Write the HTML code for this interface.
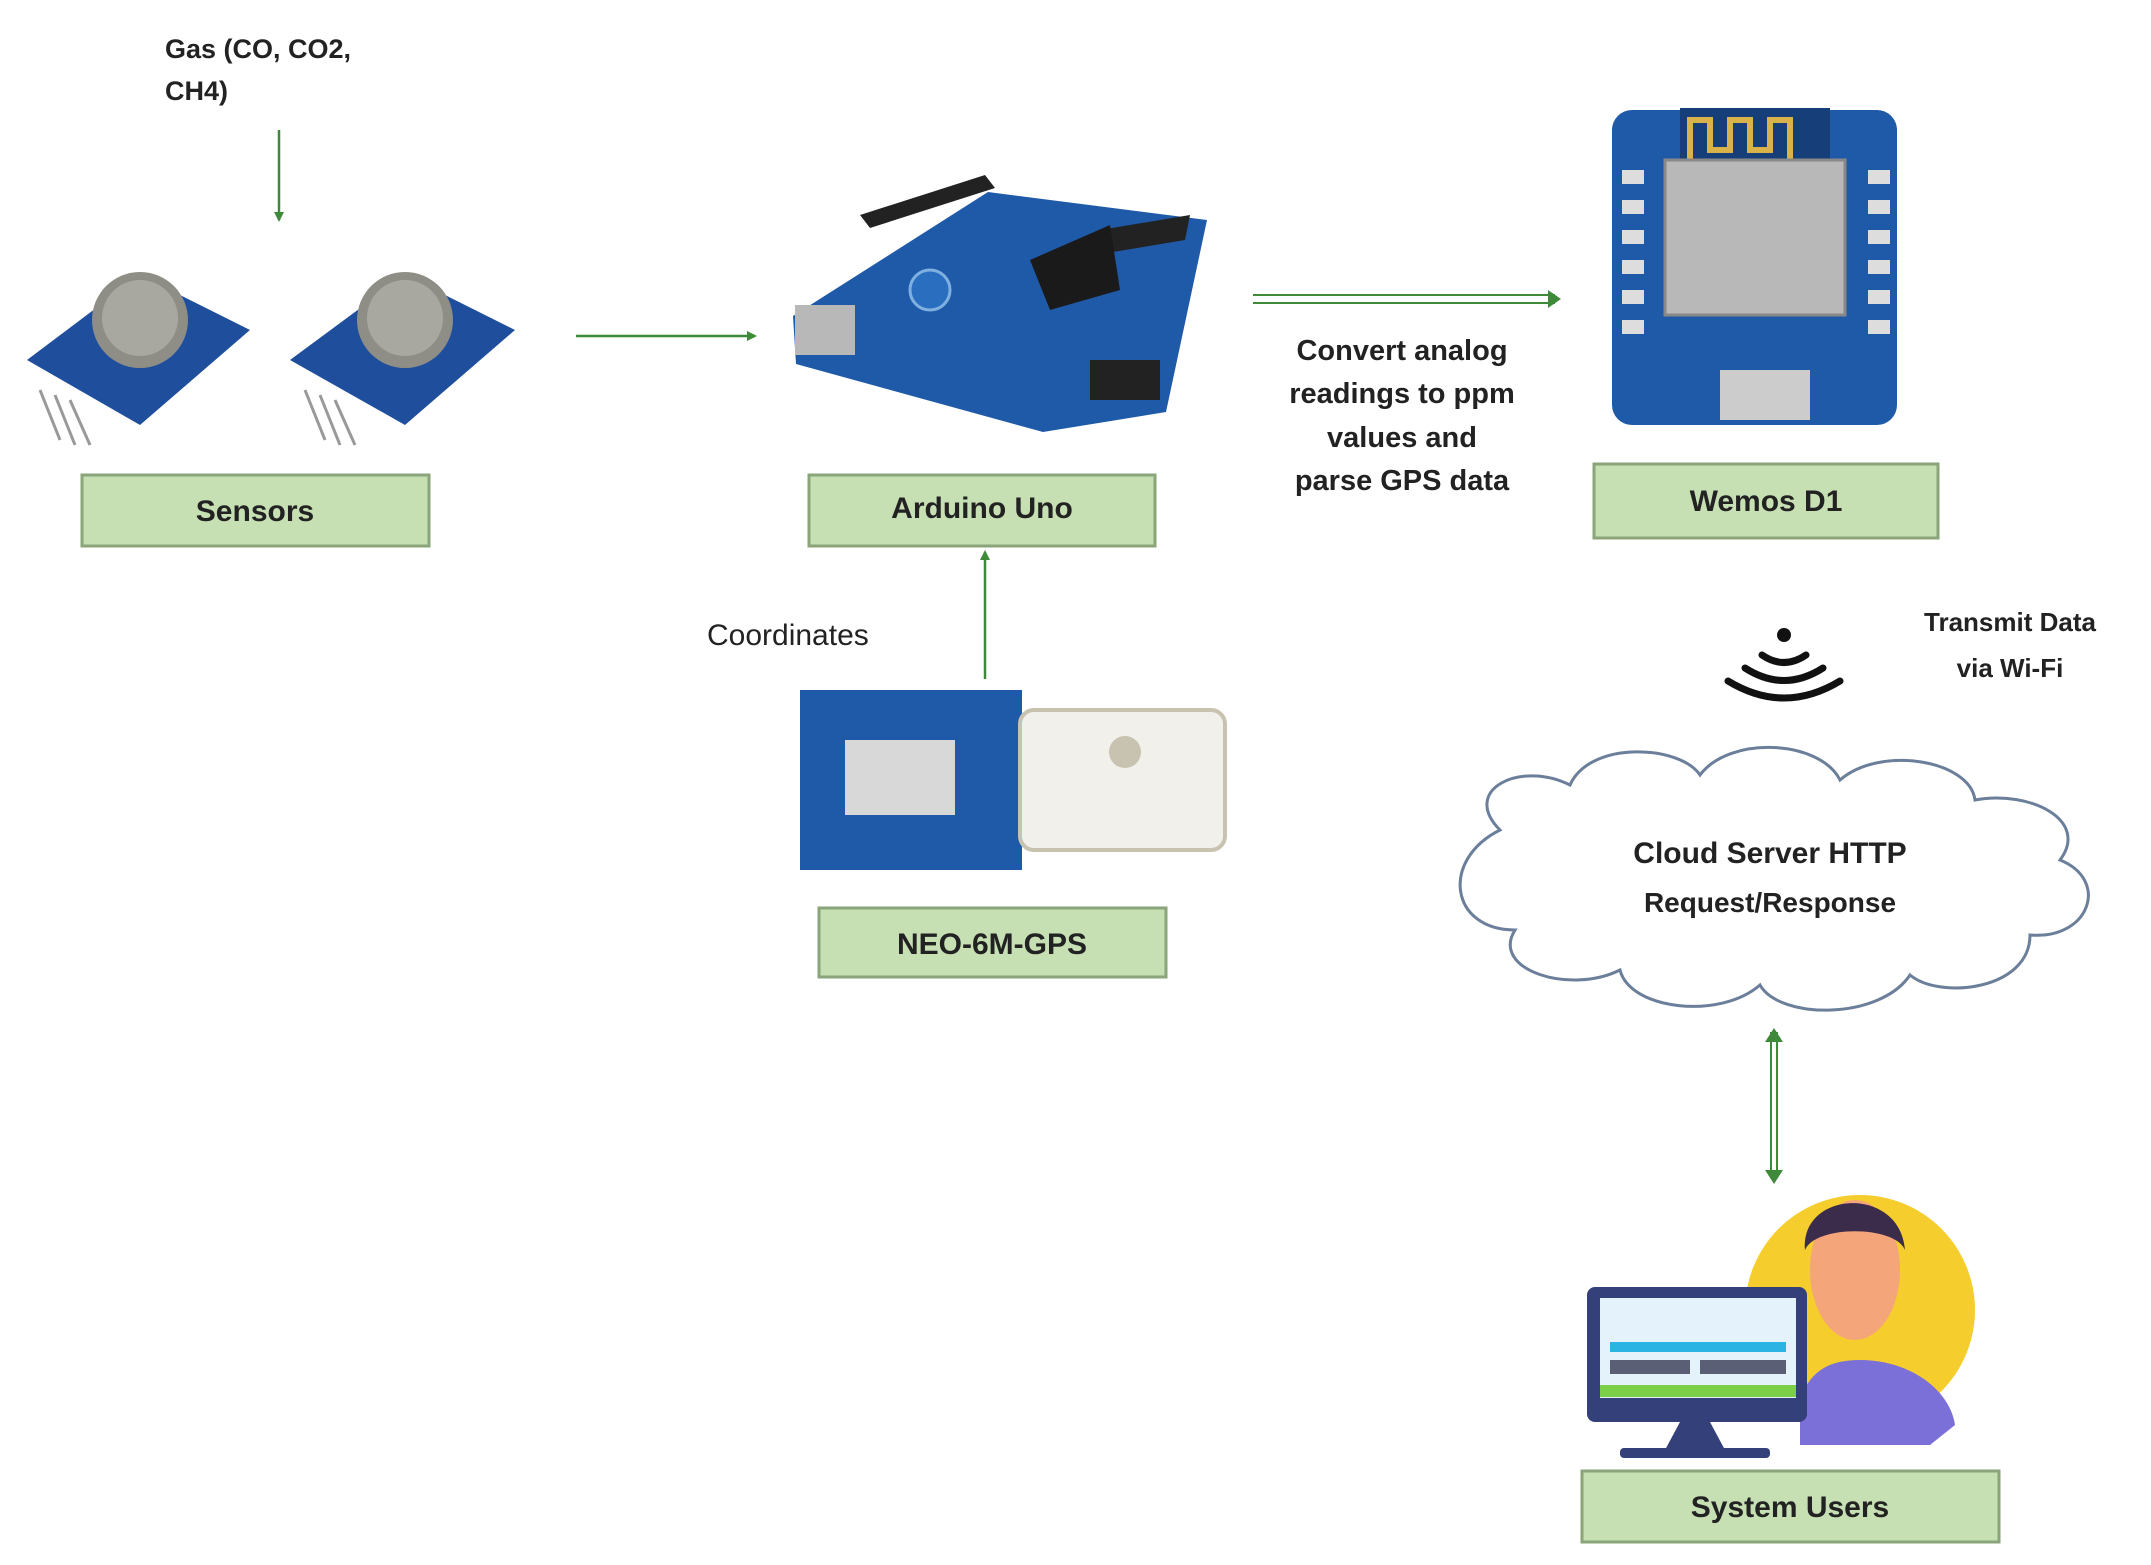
<!DOCTYPE html>
<html><head><style>
body{margin:0;background:#fff;}
svg{display:block;}
text{font-family:"Liberation Sans",sans-serif;fill:#222;font-weight:bold;}
</style></head><body>
<svg width="2151" height="1565" viewBox="0 0 2151 1565" xmlns="http://www.w3.org/2000/svg">
<defs>
<marker id="ah" markerWidth="10" markerHeight="10" refX="8" refY="5" orient="auto" markerUnits="userSpaceOnUse"><path d="M0,0 L10,5 L0,10 z" fill="#3f8a3a"/></marker>
</defs>

<text x="165" y="58" font-size="27">Gas (CO, CO2,</text>
<text x="165" y="100" font-size="27">CH4)</text>
<line x1="279" y1="130" x2="279" y2="220" stroke="#3f8a3a" stroke-width="2.5" marker-end="url(#ah)"/>

<g>
 <polygon points="27,360 140,275 250,330 140,425" fill="#1f4f9c"/>
 <circle cx="140" cy="320" r="48" fill="#8e8e86"/><circle cx="140" cy="318" r="38" fill="#a8a8a0"/>
 <line x1="40" y1="390" x2="60" y2="440" stroke="#999" stroke-width="3"/><line x1="55" y1="395" x2="75" y2="445" stroke="#999" stroke-width="3"/><line x1="70" y1="400" x2="90" y2="445" stroke="#999" stroke-width="3"/>
 <polygon points="290,360 405,275 515,330 405,425" fill="#1f4f9c"/>
 <circle cx="405" cy="320" r="48" fill="#8e8e86"/><circle cx="405" cy="318" r="38" fill="#a8a8a0"/>
 <line x1="305" y1="390" x2="325" y2="440" stroke="#999" stroke-width="3"/><line x1="320" y1="395" x2="340" y2="445" stroke="#999" stroke-width="3"/><line x1="335" y1="400" x2="355" y2="445" stroke="#999" stroke-width="3"/>
</g>
<rect x="82" y="475" width="347" height="71" fill="#c6e0b4" stroke="#8aa57a" stroke-width="3"/>
<text x="255" y="521" font-size="30" text-anchor="middle">Sensors</text>

<line x1="576" y1="336" x2="755" y2="336" stroke="#3f8a3a" stroke-width="2.5" marker-end="url(#ah)"/>

<!-- Arduino board -->
<polygon points="793,316 988,192 1207,220 1166,412 1043,432 796,364" fill="#1f5aa8"/>
<polygon points="860,215 985,175 995,188 870,228" fill="#222"/>
<polygon points="1100,230 1190,215 1185,240 1095,255" fill="#222"/>
<polygon points="1030,260 1110,225 1120,290 1050,310" fill="#1a1a1a"/>
<rect x="795" y="305" width="60" height="50" fill="#b8b8b8"/>
<circle cx="930" cy="290" r="20" fill="#2a6fbf" stroke="#7fb0e0" stroke-width="3"/>
<rect x="1090" y="360" width="70" height="40" fill="#222"/>
<rect x="809" y="475" width="346" height="71" fill="#c6e0b4" stroke="#8aa57a" stroke-width="3"/>
<text x="982" y="518" font-size="30" text-anchor="middle">Arduino Uno</text>

<line x1="1253" y1="295" x2="1555" y2="295" stroke="#3f8a3a" stroke-width="2"/>
<line x1="1253" y1="303" x2="1555" y2="303" stroke="#3f8a3a" stroke-width="2"/>
<path d="M1548,290 L1561,299 L1548,308 z" fill="#3f8a3a"/>
<text x="1402" y="360" font-size="29" text-anchor="middle">Convert analog</text>
<text x="1402" y="403" font-size="29" text-anchor="middle">readings to ppm</text>
<text x="1402" y="447" font-size="29" text-anchor="middle">values and</text>
<text x="1402" y="490" font-size="29" text-anchor="middle">parse GPS data</text>

<rect x="1612" y="110" width="285" height="315" rx="20" fill="#1f5aa8"/>
<rect x="1680" y="108" width="150" height="60" fill="#163f7a"/>
<path d="M1690,160 v-40 h20 v30 h20 v-30 h20 v30 h20 v-30 h20 v40" stroke="#d9b24a" stroke-width="6" fill="none"/>
<rect x="1665" y="160" width="180" height="155" fill="#b8b8b8" stroke="#888" stroke-width="3"/>
<g fill="#ddd"><rect x="1622" y="170" width="22" height="14"/><rect x="1622" y="200" width="22" height="14"/><rect x="1622" y="230" width="22" height="14"/><rect x="1622" y="260" width="22" height="14"/><rect x="1622" y="290" width="22" height="14"/><rect x="1622" y="320" width="22" height="14"/><rect x="1868" y="170" width="22" height="14"/><rect x="1868" y="200" width="22" height="14"/><rect x="1868" y="230" width="22" height="14"/><rect x="1868" y="260" width="22" height="14"/><rect x="1868" y="290" width="22" height="14"/><rect x="1868" y="320" width="22" height="14"/></g>
<rect x="1720" y="370" width="90" height="50" fill="#ccc"/>
<rect x="1594" y="464" width="344" height="74" fill="#c6e0b4" stroke="#8aa57a" stroke-width="3"/>
<text x="1766" y="511" font-size="30" text-anchor="middle">Wemos D1</text>

<text x="707" y="645" font-size="30" style="font-weight:normal">Coordinates</text>
<line x1="985" y1="679" x2="985" y2="552" stroke="#3f8a3a" stroke-width="2.5" marker-end="url(#ah)"/>
<rect x="800" y="690" width="222" height="180" fill="#1f5aa8"/>
<rect x="845" y="740" width="110" height="75" fill="#d8d8d8"/>
<rect x="1020" y="710" width="205" height="140" rx="14" fill="#f2f0ea" stroke="#c8c2b0" stroke-width="4"/>
<circle cx="1125" cy="752" r="16" fill="#c8c2b0"/>
<rect x="819" y="908" width="347" height="69" fill="#c6e0b4" stroke="#8aa57a" stroke-width="3"/>
<text x="992" y="954" font-size="30" text-anchor="middle">NEO-6M-GPS</text>

<g fill="none" stroke="#111" stroke-width="7" stroke-linecap="round">
<path d="M1762,655 Q1784,670 1806,655"/>
<path d="M1745,668 Q1784,693 1823,668"/>
<path d="M1728,681 Q1784,715 1840,681"/>
</g>
<circle cx="1784" cy="635" r="7" fill="#111"/>
<text x="2010" y="631" font-size="26" text-anchor="middle">Transmit Data</text>
<text x="2010" y="677" font-size="26" text-anchor="middle">via Wi-Fi</text>

<path d="M1500,830 C1460,790 1520,760 1570,785 C1590,740 1680,745 1700,775 C1730,735 1820,740 1840,780 C1880,745 1970,760 1975,800 C2030,790 2090,820 2060,860 C2110,880 2090,940 2030,935 C2030,990 1940,1000 1910,975 C1880,1020 1780,1020 1760,985 C1720,1020 1630,1010 1620,970 C1570,995 1490,970 1515,930 C1450,930 1440,860 1500,830 Z" fill="#fff" stroke="#6b7e9a" stroke-width="3"/>
<text x="1770" y="863" font-size="30" text-anchor="middle">Cloud Server HTTP</text>
<text x="1770" y="912" font-size="28" text-anchor="middle">Request/Response</text>

<line x1="1771" y1="1032" x2="1771" y2="1178" stroke="#3f8a3a" stroke-width="2"/>
<line x1="1777" y1="1032" x2="1777" y2="1178" stroke="#3f8a3a" stroke-width="2"/>
<path d="M1765,1042 L1774,1028 L1783,1042 z" fill="#3f8a3a"/>
<path d="M1765,1170 L1774,1184 L1783,1170 z" fill="#3f8a3a"/>

<circle cx="1860" cy="1310" r="115" fill="#f5cd2c"/>
<path d="M1800,1445 L1800,1400 C1810,1370 1830,1360 1860,1360 C1910,1360 1950,1390 1955,1425 L1930,1445 Z" fill="#7b70d8"/>
<ellipse cx="1855" cy="1270" rx="45" ry="70" fill="#f4a57a"/>
<path d="M1805,1250 C1800,1190 1900,1185 1905,1250 C1895,1225 1815,1225 1805,1250 Z" fill="#3a2c4a"/>
<rect x="1587" y="1287" width="220" height="135" rx="8" fill="#34407a"/>
<rect x="1600" y="1298" width="196" height="100" fill="#e4f3fb"/>
<rect x="1610" y="1342" width="176" height="10" fill="#2bb3e3"/>
<rect x="1610" y="1360" width="80" height="14" fill="#5b5f75"/><rect x="1700" y="1360" width="86" height="14" fill="#5b5f75"/>
<rect x="1600" y="1385" width="196" height="12" fill="#7bd048"/>
<polygon points="1680,1422 1710,1422 1725,1450 1665,1450" fill="#34407a"/>
<rect x="1620" y="1448" width="150" height="10" rx="4" fill="#34407a"/>
<rect x="1582" y="1471" width="417" height="71" fill="#c6e0b4" stroke="#8aa57a" stroke-width="3"/>
<text x="1790" y="1517" font-size="30" text-anchor="middle">System Users</text>
</svg>
</body></html>
